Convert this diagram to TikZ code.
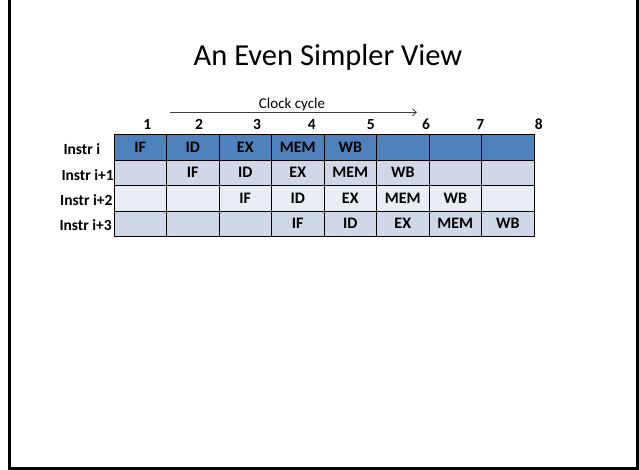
\documentclass[tikz,border=0pt]{standalone}
\usepackage{fontspec}
\setmainfont{Carlito}
\usetikzlibrary{arrows.meta}
\definecolor{hdr}{HTML}{4F81BD}
\definecolor{rowa}{HTML}{D0D8E8}
\definecolor{rowb}{HTML}{E9EDF4}
\newcommand\stagename[1]{\ifcase#1\or IF\or ID\or EX\or MEM\or WB\fi}
\begin{document}
\begin{tikzpicture}[x=1pt,y=-1pt,
  cellbox/.style={draw=black, line width=1pt, minimum width=52.5pt, minimum height=25.5pt,
    inner sep=0pt, anchor=center, font=\bfseries\fontsize{16}{16}\selectfont},
  numlbl/.style={inner sep=0pt, anchor=center, font=\bfseries\fontsize{15.5}{15.5}\selectfont},
  rowlbl/.style={inner sep=0pt, anchor=west, font=\bfseries\fontsize{15.5}{15.5}\selectfont},
  frameline/.style={draw=black, line width=3pt}]
\useasboundingbox (0,0) rectangle (639,469);
\fill[white] (0,0) rectangle (639,469);
\draw[frameline] (9.5,-10) rectangle (637,468.5);
\node[anchor=base, inner sep=0pt, font=\fontsize{30.5}{30.5}\selectfont] (title) at (328,65) {An Even Simpler View};
\node[anchor=base, inner sep=0pt, font=\fontsize{15}{15}\selectfont] (clk) at (292,108.3) {Clock cycle};
\coordinate (arrS) at (170,112.3);
\coordinate (arrE) at (417,112.3);
\draw[-{Straight Barb[length=4pt,width=7pt]}, line width=0.8pt, black!75] (arrS) -- (arrE);
\foreach \c/\x in {1/147.3,2/199,3/257,4/311.7,5/370.7,6/426,7/480.3,8/538.7}
  \node[numlbl] (n\c) at (\x,124.3) {\c};
\foreach \r/\fc/\lbl/\lx/\ly in {1/hdr/{Instr i}/63.3/149.3,2/rowa/{Instr i+1}/61.3/175,3/rowb/{Instr i+2}/60/200,4/rowa/{Instr i+3}/59.3/225}{
  \node[rowlbl] (r\r) at (\lx,\ly) {\lbl};
  \foreach \c in {1,...,8}{
    \pgfmathtruncatemacro\s{\c-\r+1}
    \node[cellbox, fill=\fc] (cell-\r-\c) at ({114+52.5*(\c-0.5)},{134.5+25.5*(\r-0.5)}) {\stagename{\s}};
  }
}
\end{tikzpicture}
\end{document}
